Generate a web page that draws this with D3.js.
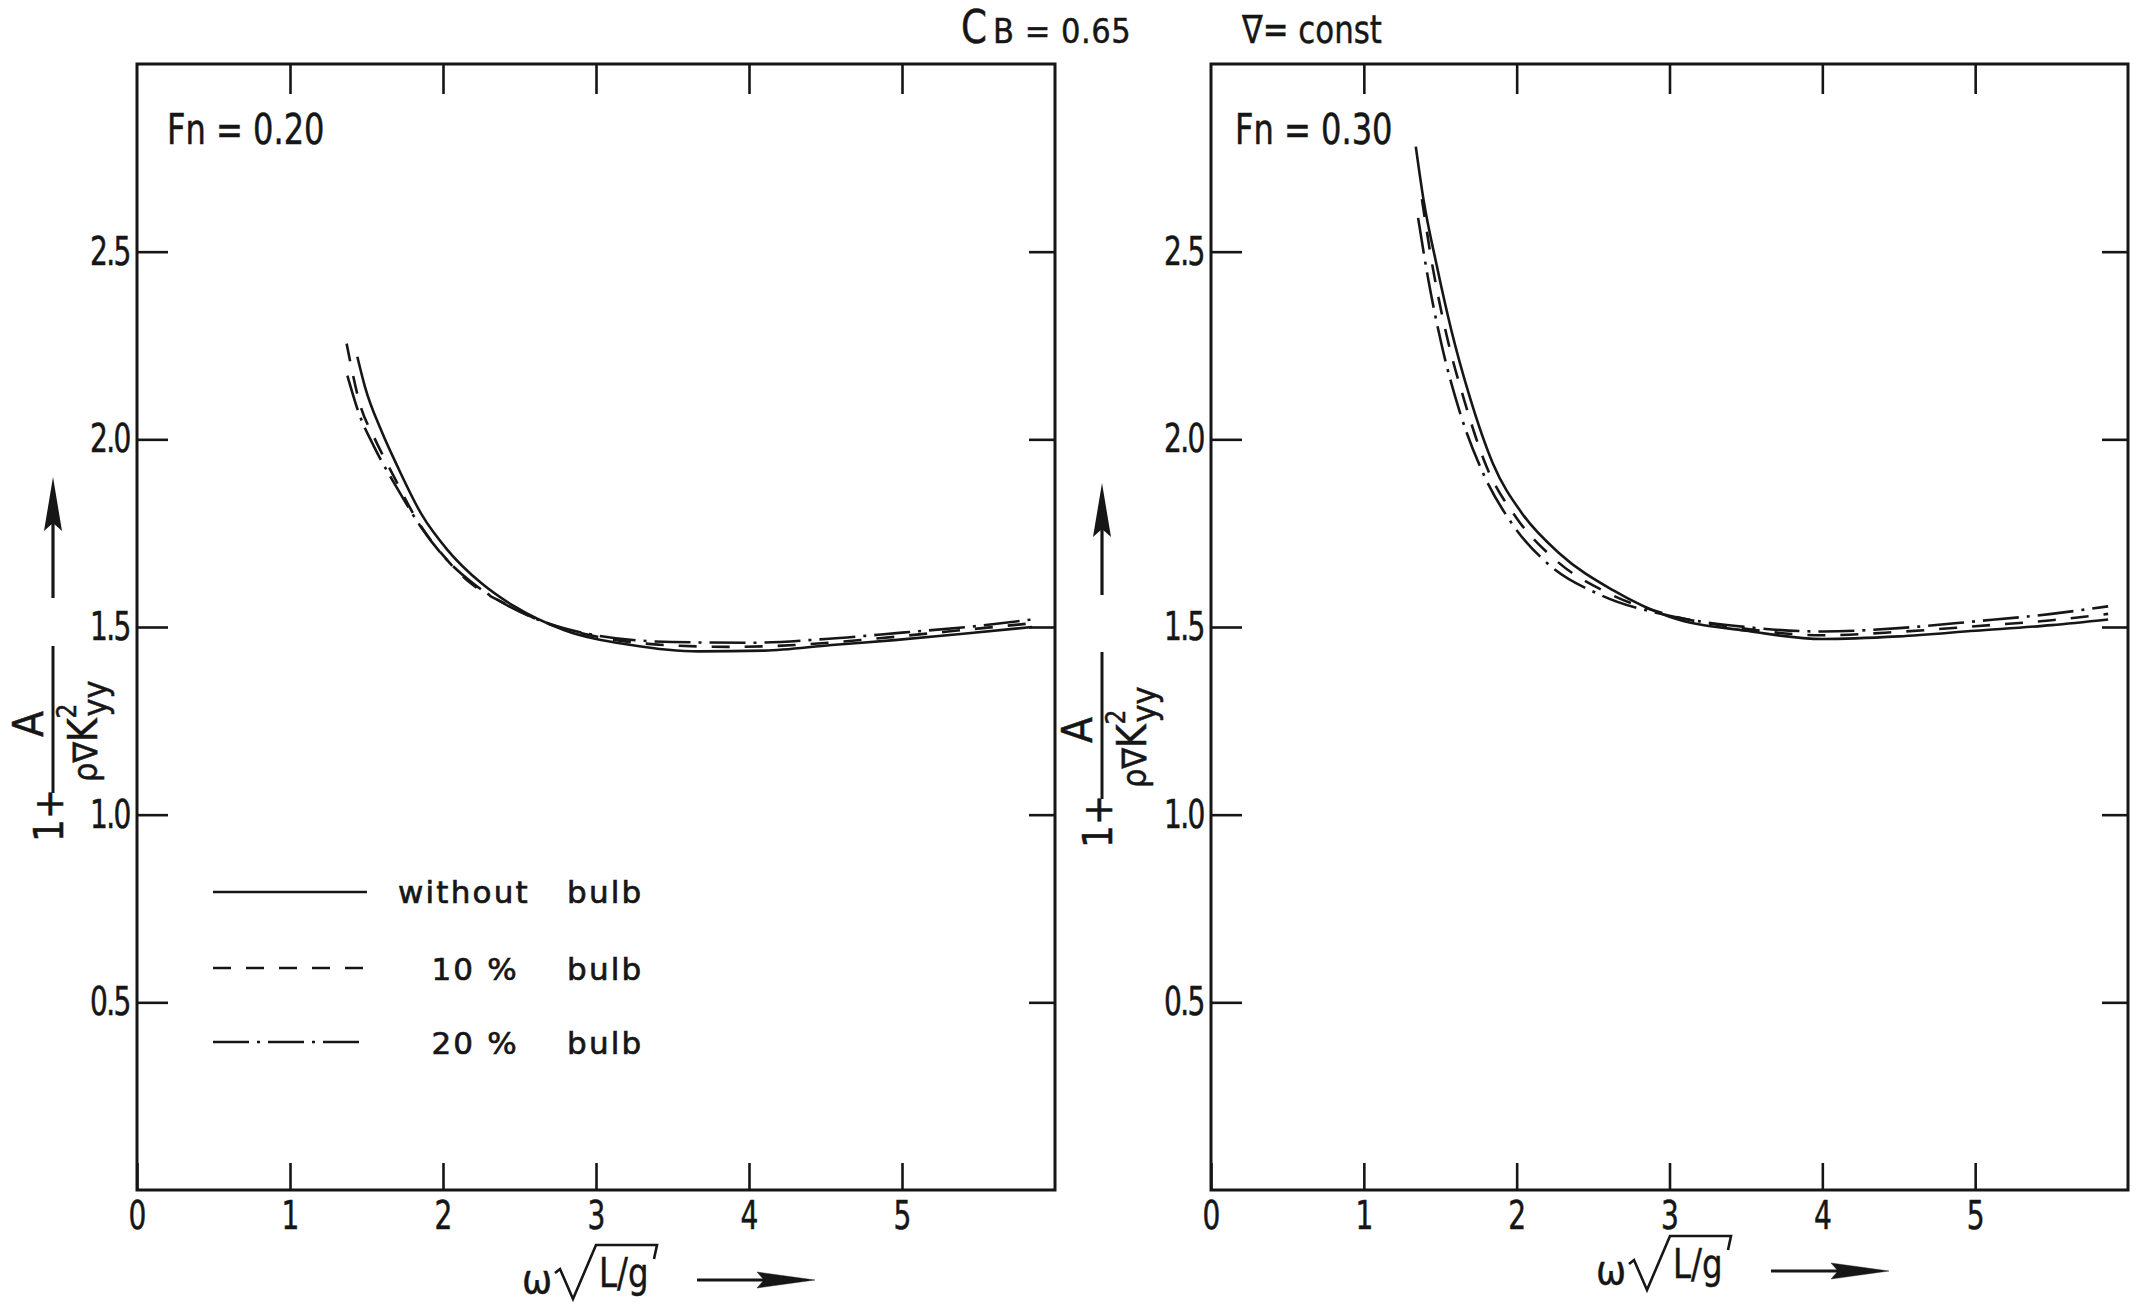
<!DOCTYPE html>
<html><head><meta charset="utf-8">
<script src="https://cdn.jsdelivr.net/npm/d3@7"></script>
<style>
html,body{margin:0;padding:0;background:#fff;}
svg{display:block;}
</style></head><body>
<svg id="chart" width="2140" height="1307"></svg>
<script>
// ---------- data ----------
const xTickValues = [0, 1, 2, 3, 4, 5];
const yTickValues = [0.5, 1.0, 1.5, 2.0, 2.5];
const panelLabels = ["Fn = 0.20", "Fn = 0.30"];
const legendNames = ["without", "10 %", "20 %"];
const legendSuffix = "bulb";

// Fn = 0.20
const fn020_without = [[1.44,2.22],[1.49,2.14],[1.60,2.02],[1.70,1.93],[1.86,1.80],[2.03,1.705],[2.25,1.617],[2.47,1.554],[2.79,1.492],[3.23,1.452],[3.67,1.435],[4.10,1.437],[4.54,1.452],[4.95,1.465],[5.40,1.482],[5.85,1.50]];
const fn020_bulb10  = [[1.37,2.255],[1.46,2.09],[1.55,2.005],[1.68,1.90],[1.83,1.785],[1.99,1.696],[2.18,1.617],[2.40,1.563],[2.68,1.51],[3.01,1.474],[3.45,1.452],[3.88,1.447],[4.30,1.452],[4.80,1.468],[5.30,1.488],[5.85,1.51]];
const fn020_bulb20  = [[1.375,2.17],[1.45,2.07],[1.55,1.98],[1.70,1.87],[1.85,1.77],[2.00,1.69],[2.20,1.615],[2.40,1.562],[2.70,1.508],[3.00,1.478],[3.50,1.46],[4.00,1.458],[4.50,1.468],[5.00,1.485],[5.50,1.503],[5.85,1.52]];
// Fn = 0.30
const fn030_without = [[1.34,2.78],[1.39,2.64],[1.475,2.467],[1.573,2.29],[1.693,2.113],[1.845,1.935],[2.04,1.80],[2.28,1.696],[2.63,1.598],[3.00,1.527],[3.50,1.49],[4.00,1.468],[4.50,1.475],[5.00,1.49],[5.50,1.505],[5.87,1.52]];
const fn030_bulb10  = [[1.38,2.64],[1.45,2.46],[1.54,2.28],[1.66,2.10],[1.80,1.93],[2.00,1.79],[2.25,1.68],[2.60,1.59],[3.00,1.532],[3.50,1.495],[4.00,1.478],[4.50,1.487],[5.00,1.502],[5.50,1.518],[5.87,1.535]];
const fn030_bulb20  = [[1.355,2.59],[1.42,2.43],[1.51,2.25],[1.63,2.07],[1.78,1.91],[1.97,1.775],[2.20,1.67],[2.55,1.585],[3.00,1.53],[3.50,1.50],[4.00,1.488],[4.50,1.497],[5.00,1.515],[5.50,1.535],[5.87,1.555]];

// ---------- styling ----------
const INK = "#161616";
const NARROW = "'Liberation Sans Narrow','Arial Narrow','DejaVu Sans Condensed','Liberation Sans',sans-serif";
const REG = "'DejaVu Sans','Liberation Sans',sans-serif";
const dashes = ["none", "18,15", "36,8,3,8"];
const SQ = 0.8; // horizontal squeeze for the narrow lettering

const svg = d3.select("#chart");
svg.append("rect").attr("width",2140).attr("height",1307).attr("fill","#fff");

const panels = [
  {label: panelLabels[0], series: [fn020_without, fn020_bulb10, fn020_bulb20], x0: 137, x1: 1055, labDx: 30, yl: {bx: 53, by: 842, arrowTop: 477, arrowBot: 598}, xl: {dy: 0}},
  {label: panelLabels[1], series: [fn030_without, fn030_bulb10, fn030_bulb20], x0: 1211, x1: 2128, labDx: 24, yl: {bx: 1102, by: 848, arrowTop: 483, arrowBot: 595}, xl: {dy: -9}}
];

const yTop = 64, yBot = 1190;

panels.forEach((p, pi) => {
  const x = d3.scaleLinear().domain([0, 6]).range([p.x0, p.x1]);
  const y = d3.scaleLinear().domain([0, 3]).range([yBot, yTop]);
  const g = svg.append("g");

  // frame
  g.append("rect").attr("x", x(0)).attr("y", y(3)).attr("width", x(6)-x(0)).attr("height", y(0)-y(3))
    .attr("fill","none").attr("stroke",INK).attr("stroke-width",3);

  const styleAxis = (sel) => {
    sel.select(".domain").remove();
    sel.selectAll("line").attr("stroke", INK).attr("stroke-width", 2.6);
    sel.selectAll("text").attr("fill", INK).attr("stroke", INK).attr("stroke-width", 0.5);
    sel.attr("font-family", NARROW).attr("font-size", 39);
  };

  g.append("g").attr("transform", `translate(0,${y(0)})`)
    .call(d3.axisBottom(x).tickValues(xTickValues).tickSizeInner(-27).tickSizeOuter(0).tickPadding(11).tickFormat(d3.format("d")))
    .call(styleAxis)
    .selectAll("text").attr("transform", `scale(${SQ},1)`);
  g.append("g").attr("transform", `translate(0,${y(3)})`)
    .call(d3.axisTop(x).tickValues(xTickValues.filter(v => v > 0)).tickSizeInner(-30).tickSizeOuter(0).tickFormat(""))
    .call(styleAxis);
  g.append("g").attr("transform", `translate(${x(0)},0)`)
    .call(d3.axisLeft(y).tickValues(yTickValues).tickSizeInner(-31).tickSizeOuter(0).tickPadding(9).tickFormat(d3.format(".1f")))
    .call(styleAxis)
    .selectAll("text").attr("letter-spacing", -2).attr("transform", `scale(${SQ},1)`);
  g.append("g").attr("transform", `translate(${x(6)},0)`)
    .call(d3.axisRight(y).tickValues(yTickValues).tickSizeInner(-26).tickSizeOuter(0).tickFormat(""))
    .call(styleAxis);

  // curves
  const line = d3.line().x(d => x(d[0])).y(d => y(d[1])).curve(d3.curveMonotoneX);
  p.series.forEach((s, si) => {
    g.append("path").attr("d", line(s)).attr("fill","none").attr("stroke",INK)
      .attr("stroke-width", 2.6).attr("stroke-dasharray", dashes[si]).attr("stroke-linecap","butt");
  });

  // panel label
  g.append("text").attr("transform", `translate(${x(0) + p.labDx},${y(3) + 80}) scale(0.83,1)`)
    .attr("font-family", NARROW).attr("font-size", 43).attr("fill", INK)
    .attr("stroke", INK).attr("stroke-width", 0.5).text(p.label);

  // y-axis label (rotated fraction) + arrow
  const yl = p.yl;
  const lg = g.append("g").attr("transform", `translate(${yl.bx},${yl.by}) rotate(-90)`)
    .attr("font-family", NARROW).attr("fill", INK).attr("stroke", INK).attr("stroke-width", 0.5);
  lg.append("text").attr("x", 0).attr("y", 10).attr("font-size", 40).text("1+");
  lg.append("line").attr("x1", 49).attr("x2", 196).attr("y1", 0).attr("y2", 0)
    .attr("stroke", INK).attr("stroke-width", 3);
  lg.append("text").attr("x", 118).attr("y", -10).attr("text-anchor","middle").attr("font-size", 42).text("A");
  const den = lg.append("text").attr("x", 60).attr("y", 44).attr("font-size", 34);
  den.append("tspan").text("ρ∇");
  den.append("tspan").attr("font-size", 40).text("K");
  den.append("tspan").attr("font-size", 26).attr("dy", -21).text("2");
  den.append("tspan").attr("font-size", 34).attr("dx", -13).attr("dy", 31).text("yy");

  g.append("line").attr("x1", yl.bx).attr("x2", yl.bx).attr("y1", yl.arrowBot).attr("y2", yl.arrowTop + 40)
    .attr("stroke", INK).attr("stroke-width", 3.2);
  g.append("path").attr("d", `M${yl.bx},${yl.arrowTop} L${yl.bx+9},${yl.arrowTop+54} L${yl.bx},${yl.arrowTop+46} L${yl.bx-9},${yl.arrowTop+54} Z`)
    .attr("fill", INK);

  // x-axis label: ω √(L/g) + arrow
  const bx = x(0), by = 1293 + p.xl.dy;
  const xg = g.append("g").attr("font-family", NARROW).attr("fill", INK).attr("stroke", INK).attr("stroke-width", 0.4);
  xg.append("text").attr("x", bx + 385).attr("y", by).attr("font-size", 40).text("ω");
  xg.append("path").attr("d", `M${bx+418},${by-20} L${bx+423},${by-24} L${bx+436},${by+6} L${bx+459},${by-48} L${bx+520},${by-48} L${bx+517},${by-34}`)
    .attr("fill","none").attr("stroke", INK).attr("stroke-width", 2.6).attr("stroke-linejoin","miter");
  xg.append("text").attr("transform", `translate(${bx + 462},${by - 6}) scale(0.9,1)`).attr("font-size", 40).text("L/g");
  const ay = by - 13;
  xg.append("line").attr("x1", bx + 560).attr("x2", bx + 630).attr("y1", ay).attr("y2", ay)
    .attr("stroke", INK).attr("stroke-width", 3.2);
  xg.append("path").attr("d", `M${bx+678},${ay} L${bx+620},${ay-8} L${bx+627},${ay} L${bx+620},${ay+8} Z`).attr("fill", INK);
});

// legend (left panel)
const legY = [892, 968, 1042];
const lgd = svg.append("g").attr("font-family", REG).attr("font-size", 31).attr("fill", INK)
  .attr("letter-spacing", 2.2).attr("stroke", INK).attr("stroke-width", 0.7);
legendNames.forEach((name, i) => {
  lgd.append("line").attr("x1", 213).attr("x2", 367).attr("y1", legY[i]).attr("y2", legY[i])
    .attr("stroke", INK).attr("stroke-width", 2.6).attr("stroke-dasharray", dashes[i]);
  if (i === 0) {
    lgd.append("text").attr("x", 398).attr("y", legY[i] + 11).text(name);
  } else {
    lgd.append("text").attr("x", 519).attr("y", legY[i] + 12).attr("text-anchor","end").text(name);
  }
  lgd.append("text").attr("x", 567).attr("y", legY[i] + 11 + (i ? 1 : 0)).text(legendSuffix);
});

// header texts
const hdr = svg.append("g").attr("fill", INK).attr("font-family", NARROW).attr("stroke", INK).attr("stroke-width", 0.4);
hdr.append("text").attr("transform", "translate(961,43) scale(0.9,1)").attr("font-size", 46).text("C");
hdr.append("text").attr("x", 993).attr("y", 43).attr("font-size", 34).attr("letter-spacing", 0.5).text("B = 0.65");
hdr.append("text").attr("transform", "translate(1242,43) scale(0.88,1)").attr("font-size", 39).text("∇= const");
</script>
</body></html>
